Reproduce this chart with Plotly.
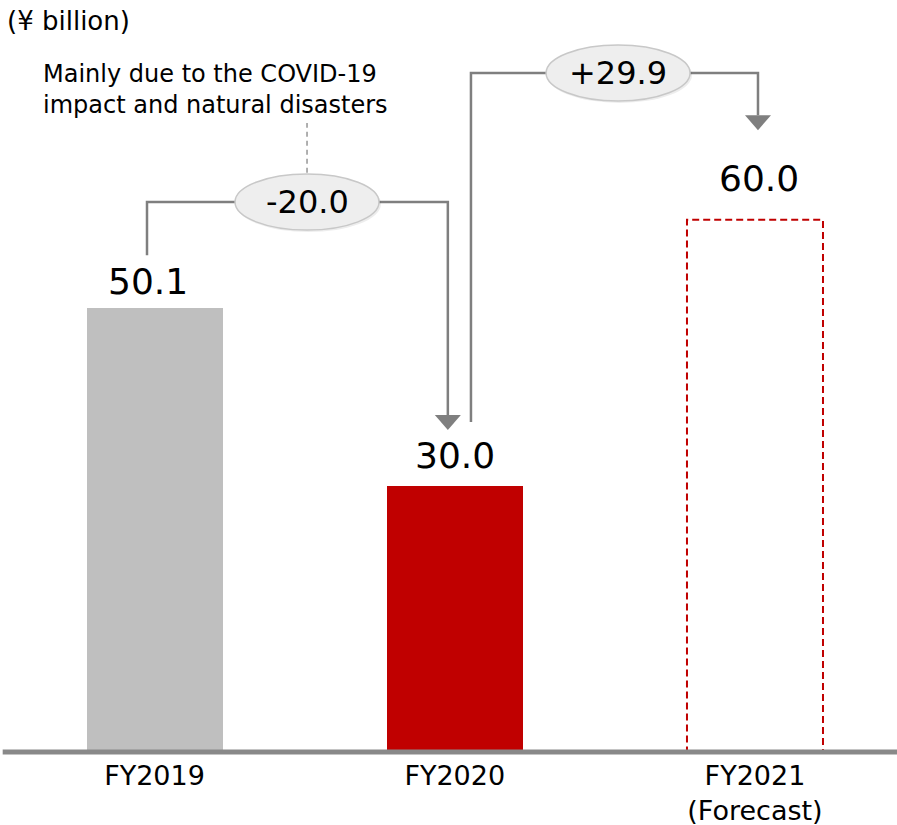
import plotly.graph_objects as go

# data
categories = ["FY2019", "FY2020", "FY2021<br>(Forecast)"]
values = [50.1, 30.0, 60.0]
change_labels = ["-20.0", "+29.9"]
note_text = "Mainly due to the COVID-19<br>impact and natural disasters"
unit_text = "(¥ billion)"


def dict_layout_cols():
    dict_cols = {
        'gray_bar': 'rgb(191,191,191)',
        'red': 'rgb(192,0,0)',
        'axis': 'rgb(137,137,137)',
        'connector': 'rgb(127,127,127)',
        'leader': 'rgb(150,150,150)',
        'ellipse_fill': 'rgb(238,238,238)',
        'ellipse_line': 'rgb(200,200,200)',
        'text': 'rgb(0,0,0)',
        'white': 'rgb(255,255,255)',
    }
    return dict_cols


cols = dict_layout_cols()
font_name = "DejaVu Sans"
bar_width = 0.453
x_idx = list(range(len(categories)))

fig_w, fig_h = 897, 825
plot_h = 752
px_per_unit = 8.87

fig = go.Figure()

# actual results bars
fig.add_trace(
    go.Bar(
        x=x_idx[:2],
        y=values[:2],
        width=bar_width,
        marker=dict(color=[cols['gray_bar'], cols['red']], line=dict(width=0)),
        hoverinfo='skip',
    )
)

# forecast bar: dashed outline only
fig.add_shape(
    type='rect', xref='x', yref='y',
    x0=x_idx[2] - bar_width / 2, x1=x_idx[2] + bar_width / 2,
    y0=0, y1=values[2],
    line=dict(color=cols['red'], width=2, dash='7px,4px'),
    fillcolor='rgba(0,0,0,0)',
)

# baseline (paper ref so it is not clipped by the plot area)
fig.add_shape(
    type='line', xref='paper', yref='paper',
    x0=0.003, x1=1, y0=0, y1=0,
    line=dict(color=cols['axis'], width=5),
)

# value labels
label_shift = [(-7, 4), (0, 8), (4, 19)]
for i, v in enumerate(values):
    fig.add_annotation(
        x=x_idx[i], y=v, text=f"{v:.1f}", showarrow=False,
        yanchor='bottom', xshift=label_shift[i][0], yshift=label_shift[i][1],
        font=dict(family=font_name, size=36, color=cols['text']),
    )

# connectors between bars
line_style = dict(color=cols['connector'], width=2.5)
brackets = [
    # (x_start, y_start, y_level, x_end, arrow tip)
    (-0.025, values[0] + 5.9, 62.0, 0.977, values[1] + 6.3),
    (1.054, values[1] + 7.2, 76.55, 2.010, values[2] + 10.1),
]
ellipse_x = [0.508, 1.544]
for k, (xs, ys, yl, xe, tip) in enumerate(brackets):
    base = tip + 15 / px_per_unit
    fig.add_shape(
        type='path', xref='x', yref='y',
        path=f"M {xs},{ys} L {xs},{yl} L {xe},{yl} L {xe},{base}",
        line=line_style,
    )
    # arrow head
    fig.add_shape(
        type='path', xref='x', yref='y',
        xsizemode='pixel', ysizemode='pixel', xanchor=xe, yanchor=tip,
        path="M -13,15 L 13,15 L 0,0 Z",
        fillcolor=cols['connector'], line=dict(width=0),
    )
    # ellipse shadow
    fig.add_shape(
        type='circle', xref='x', yref='y',
        xsizemode='pixel', ysizemode='pixel', xanchor=ellipse_x[k], yanchor=yl,
        x0=-71, x1=74, y0=-30, y1=26,
        fillcolor='rgba(0,0,0,0.07)', line=dict(width=0),
    )
    # ellipse
    fig.add_shape(
        type='circle', xref='x', yref='y',
        xsizemode='pixel', ysizemode='pixel', xanchor=ellipse_x[k], yanchor=yl,
        x0=-72, x1=72, y0=-28, y1=28,
        fillcolor=cols['ellipse_fill'], line=dict(color=cols['ellipse_line'], width=1.5),
    )
    fig.add_annotation(
        x=ellipse_x[k], y=yl, text=change_labels[k], showarrow=False,
        font=dict(family=font_name, size=32, color=cols['text']),
    )

# leader from note to ellipse
fig.add_shape(
    type='line', xref='x', yref='y',
    x0=ellipse_x[0], x1=ellipse_x[0], y0=65.3, y1=70.9,
    line=dict(color=cols['leader'], width=1.5, dash='5px,4px'),
)

fig.add_annotation(
    xref='paper', yref='paper', x=41 / fig_w, y=1 - 90 / plot_h,
    xanchor='left', yanchor='middle', align='left', showarrow=False,
    text=note_text,
    font=dict(family=font_name, size=24, color=cols['text']),
)

fig.add_annotation(
    xref='paper', yref='paper', x=5 / fig_w, y=1 - 21 / plot_h,
    xanchor='left', yanchor='middle', showarrow=False,
    text=unit_text,
    font=dict(family=font_name, size=26, color=cols['text']),
)

fig.update_xaxes(
    range=[-0.5146, 2.473],
    tickvals=x_idx,
    ticktext=categories,
    showgrid=False, zeroline=False, showline=False,
    ticks='', ticklabelstandoff=5, automargin=False,
    tickfont=dict(family=font_name, size=27, color=cols['text']),
    fixedrange=True,
)
fig.update_yaxes(
    range=[0, plot_h / px_per_unit],
    visible=False, showgrid=False, zeroline=False, automargin=False,
    fixedrange=True,
)

fig.update_layout(
    width=fig_w, height=fig_h,
    margin=dict(l=0, r=0, t=0, b=fig_h - plot_h),
    showlegend=False,
    plot_bgcolor=cols['white'],
    paper_bgcolor=cols['white'],
    bargap=0,
)

fig.write_html(
    "out.html",
    config=dict(displayModeBar=False),
    post_script=(
        "document.documentElement.style.margin='0px';"
        "document.body.style.margin='0px';"
        "document.documentElement.style.overflow='hidden';"
        "document.body.style.overflow='hidden';"
    ),
)
